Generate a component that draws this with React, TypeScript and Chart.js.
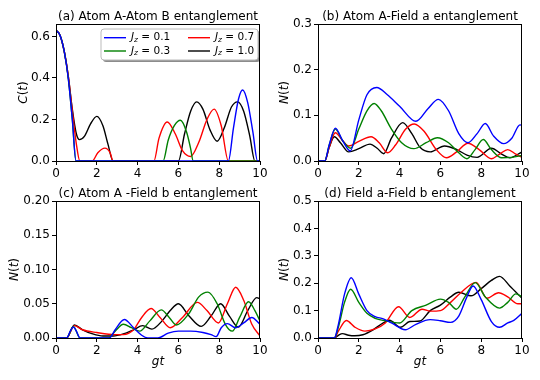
import React, { useEffect, useRef } from "react";
import { Chart, registerables } from "chart.js";

Chart.register(...registerables);

type Pt = [number, number];

// Series labels and colours
const JZ_VALUES = ["0.1", "0.3", "0.7", "1.0"];
const SERIES_COLORS = ["#0000ff", "#008000", "#ff0000", "#000000"];

// Axis ticks
const X_TICKS = [0, 2, 4, 6, 8, 10];
const Y_TICKS_A = [0, 0.2, 0.4, 0.6];
const Y_TICKS_B = [0, 0.1, 0.2, 0.3];
const Y_TICKS_C = [0, 0.05, 0.1, 0.15, 0.2];
const Y_TICKS_D = [0, 0.1, 0.2, 0.3, 0.4, 0.5];

// (a) Atom A - Atom B concurrence C(t)
const A_J01: Pt[] = [[0, 0.63], [0.2, 0.605], [0.4, 0.53], [0.6, 0.4], [0.8, 0.2], [0.98, 0], [8.45, 0], [8.7, 0.16], [8.95, 0.3], [9.15, 0.342], [9.4, 0.28], [9.65, 0.14], [9.88, 0], [10, 0]];
const A_J03: Pt[] = [[0, 0.63], [0.2, 0.605], [0.4, 0.53], [0.6, 0.4], [0.8, 0.2], [0.98, 0], [5.25, 0], [5.5, 0.1], [5.8, 0.17], [6.1, 0.196], [6.4, 0.14], [6.6, 0.06], [6.72, 0], [10, 0]];
const A_J07: Pt[] = [[0, 0.63], [0.2, 0.605], [0.4, 0.53], [0.6, 0.41], [0.8, 0.24], [1.0, 0.08], [1.17, 0], [1.78, 0], [2.05, 0.04], [2.4, 0.062], [2.65, 0.04], [2.8, 0], [4.8, 0], [5.05, 0.11], [5.45, 0.188], [5.85, 0.13], [6.2, 0.05], [6.6, 0.022], [7.0, 0.09], [7.4, 0.2], [7.75, 0.25], [8.1, 0.17], [8.45, 0], [10, 0]];
const A_J10: Pt[] = [[0, 0.63], [0.2, 0.605], [0.4, 0.53], [0.6, 0.41], [0.8, 0.25], [1.0, 0.13], [1.15, 0.103], [1.4, 0.12], [1.7, 0.18], [2.0, 0.215], [2.3, 0.17], [2.55, 0.08], [2.8, 0], [6.0, 0], [6.3, 0.13], [6.6, 0.24], [6.9, 0.285], [7.2, 0.25], [7.55, 0.15], [7.9, 0.095], [8.25, 0.16], [8.6, 0.26], [8.9, 0.285], [9.2, 0.24], [9.5, 0.12], [9.75, 0], [10, 0]];

// (b) Atom A - Field a negativity N(t)
const B_J01: Pt[] = [[0, 0], [0.33, 0], [0.55, 0.035], [0.85, 0.072], [1.2, 0.045], [1.58, 0.022], [2.0, 0.09], [2.4, 0.145], [2.88, 0.161], [3.4, 0.145], [4.0, 0.12], [4.8, 0.087], [5.4, 0.115], [5.9, 0.135], [6.4, 0.11], [6.9, 0.06], [7.35, 0.04], [7.8, 0.06], [8.2, 0.082], [8.6, 0.055], [9.1, 0.038], [9.5, 0.05], [9.9, 0.079], [10, 0.078]];
const B_J03: Pt[] = [[0, 0], [0.33, 0], [0.55, 0.035], [0.85, 0.07], [1.2, 0.045], [1.6, 0.028], [2.0, 0.07], [2.4, 0.11], [2.75, 0.126], [3.1, 0.11], [3.6, 0.07], [4.1, 0.04], [4.7, 0.027], [5.3, 0.04], [5.85, 0.051], [6.4, 0.04], [6.9, 0.018], [7.3, 0.005], [7.7, 0.025], [8.1, 0.047], [8.5, 0.025], [9.0, 0.007], [9.5, 0.008], [10, 0.012]];
const B_J07: Pt[] = [[0, 0], [0.33, 0], [0.55, 0.03], [0.85, 0.062], [1.2, 0.045], [1.5, 0.033], [2.0, 0.043], [2.6, 0.053], [3.0, 0.04], [3.42, 0.018], [3.8, 0.035], [4.3, 0.07], [4.72, 0.081], [5.2, 0.065], [5.8, 0.025], [6.3, 0.007], [6.8, 0.02], [7.35, 0.039], [7.9, 0.025], [8.5, 0.005], [8.9, 0.015], [9.3, 0.025], [9.7, 0.015], [10, 0.008]];
const B_J10: Pt[] = [[0, 0], [0.33, 0], [0.55, 0.03], [0.8, 0.053], [1.1, 0.04], [1.5, 0.02], [2.0, 0.027], [2.55, 0.037], [2.9, 0.028], [3.22, 0.016], [3.6, 0.05], [4.15, 0.084], [4.6, 0.06], [5.0, 0.03], [5.5, 0.02], [6.2, 0.033], [6.8, 0.025], [7.3, 0.013], [7.8, 0.008], [8.5, 0.028], [9.0, 0.015], [9.4, 0.007], [10, 0.02]];

// (c) Atom A - Field b negativity N(t)
const C_J01: Pt[] = [[0, 0], [0.52, 0], [0.7, 0.01], [0.85, 0.016], [1.0, 0.01], [1.18, 0], [2.62, 0], [2.9, 0.012], [3.35, 0.027], [3.8, 0.015], [4.2, 0.004], [4.5, 0], [5.0, 0], [5.5, 0.007], [6.0, 0.01], [6.6, 0.01], [7.2, 0.008], [7.6, 0.005], [7.85, 0.002], [8.1, 0.015], [8.4, 0.021], [8.8, 0.015], [9.2, 0.022], [9.6, 0.03], [10, 0.02]];
const C_J03: Pt[] = [[0, 0], [0.52, 0], [0.85, 0.017], [1.18, 0], [2.55, 0], [2.9, 0.01], [3.3, 0.02], [3.7, 0.015], [4.1, 0.01], [4.6, 0.025], [5.16, 0.041], [5.55, 0.03], [5.9, 0.019], [6.5, 0.035], [7.0, 0.06], [7.45, 0.067], [7.9, 0.05], [8.3, 0.02], [8.64, 0.01], [9.0, 0.03], [9.44, 0.053], [9.75, 0.04], [10, 0.025]];
const C_J07: Pt[] = [[0, 0], [0.52, 0], [0.9, 0.018], [1.3, 0.012], [2.0, 0.008], [2.9, 0.005], [3.3, 0.005], [3.8, 0.012], [4.2, 0.03], [4.66, 0.043], [5.1, 0.03], [5.6, 0.015], [6.2, 0.03], [6.93, 0.052], [7.4, 0.04], [7.96, 0.022], [8.4, 0.05], [8.81, 0.074], [9.2, 0.055], [9.6, 0.02], [10, 0.003]];
const C_J10: Pt[] = [[0, 0], [0.52, 0], [0.9, 0.019], [1.3, 0.012], [1.8, 0.006], [2.3, 0.003], [2.8, 0.003], [3.3, 0.006], [3.8, 0.012], [4.25, 0.018], [4.7, 0.013], [5.2, 0.025], [5.6, 0.04], [6.0, 0.05], [6.5, 0.033], [7.12, 0.017], [7.6, 0.032], [8.07, 0.05], [8.5, 0.032], [8.94, 0.016], [9.4, 0.04], [9.84, 0.059], [10, 0.057]];

// (d) Field a - Field b negativity N(t)
const D_J01: Pt[] = [[0, 0], [0.8, 0], [1.0, 0.05], [1.3, 0.16], [1.63, 0.22], [2.0, 0.16], [2.4, 0.1], [2.8, 0.078], [3.2, 0.07], [3.6, 0.055], [4.28, 0.03], [4.8, 0.05], [5.5, 0.067], [6.0, 0.063], [6.5, 0.057], [6.9, 0.08], [7.3, 0.15], [7.6, 0.19], [8.0, 0.14], [8.5, 0.06], [8.9, 0.039], [9.3, 0.055], [9.6, 0.064], [10, 0.09]];
const D_J03: Pt[] = [[0, 0], [0.8, 0], [1.0, 0.04], [1.3, 0.13], [1.6, 0.178], [2.0, 0.13], [2.4, 0.09], [2.8, 0.072], [3.3, 0.063], [4.0, 0.055], [4.6, 0.1], [5.3, 0.12], [6.0, 0.142], [6.4, 0.13], [6.78, 0.105], [7.2, 0.15], [7.71, 0.202], [8.2, 0.15], [8.9, 0.109], [9.3, 0.13], [9.7, 0.161], [10, 0.15]];
const D_J07: Pt[] = [[0, 0], [0.8, 0], [1.0, 0.025], [1.39, 0.064], [1.8, 0.04], [2.3, 0.025], [2.8, 0.033], [3.3, 0.055], [3.95, 0.114], [4.5, 0.075], [5.1, 0.105], [5.5, 0.098], [6.0, 0.1], [6.5, 0.13], [7.0, 0.165], [7.75, 0.203], [8.28, 0.145], [8.85, 0.165], [9.3, 0.15], [9.8, 0.125], [10, 0.125]];
const D_J10: Pt[] = [[0, 0], [0.8, 0], [1.0, 0.01], [1.2, 0.016], [1.5, 0.01], [1.8, 0.008], [2.2, 0.012], [2.7, 0.03], [3.2, 0.055], [3.5, 0.065], [4.04, 0.039], [4.5, 0.06], [5.0, 0.062], [5.5, 0.1], [6.0, 0.12], [6.5, 0.15], [6.9, 0.167], [7.5, 0.154], [8.0, 0.18], [8.5, 0.21], [8.9, 0.225], [9.4, 0.19], [10, 0.145]];

const FONT = "'DejaVu Sans', 'Liberation Sans', sans-serif";

interface PanelSpec {
  left: number;
  top: number;
  height: number;
  title: string;
  ylabel: string;
  series: Pt[][];
  ymax: number;
  yticks: number[];
  decimals: number;
  yAxisWidth: number;
  padRight: number;
  padTop: number;
  xAxisHeight: number;
  ylabelX: number;
  showXLabel: boolean;
  showLegend: boolean;
}

const PANELS: PanelSpec[] = [
  { left: 0, top: 0, height: 190, title: "(a) Atom A-Atom B entanglement", ylabel: "C", series: [A_J01, A_J03, A_J07, A_J10], ymax: 0.66, yticks: Y_TICKS_A, decimals: 1, yAxisWidth: 56, padRight: 10, padTop: 24, xAxisHeight: 29, ylabelX: 24, showXLabel: false, showLegend: true },
  { left: 270, top: 0, height: 190, title: "(b) Atom A-Field a entanglement", ylabel: "N", series: [B_J01, B_J03, B_J07, B_J10], ymax: 0.3, yticks: Y_TICKS_B, decimals: 1, yAxisWidth: 48, padRight: 18, padTop: 24, xAxisHeight: 29, ylabelX: 15, showXLabel: false, showLegend: false },
  { left: 0, top: 175, height: 205, title: "(c) Atom A -Field b entanglement", ylabel: "N", series: [C_J01, C_J03, C_J07, C_J10], ymax: 0.2, yticks: Y_TICKS_C, decimals: 2, yAxisWidth: 56, padRight: 10, padTop: 26, xAxisHeight: 42, ylabelX: 15, showXLabel: true, showLegend: false },
  { left: 270, top: 175, height: 205, title: "(d) Field a-Field b entanglement", ylabel: "N", series: [D_J01, D_J03, D_J07, D_J10], ymax: 0.5, yticks: Y_TICKS_D, decimals: 1, yAxisWidth: 48, padRight: 18, padTop: 26, xAxisHeight: 42, ylabelX: 15, showXLabel: true, showLegend: false },
];

function drawParts(ctx: CanvasRenderingContext2D, parts: { t: string; f: string; dy?: number }[], x: number, y: number, align: "left" | "center") {
  let total = 0;
  for (const p of parts) {
    ctx.font = p.f;
    total += ctx.measureText(p.t).width;
  }
  let cx = align === "center" ? x - total / 2 : x;
  ctx.textAlign = "left";
  for (const p of parts) {
    ctx.font = p.f;
    ctx.fillText(p.t, cx, y + (p.dy || 0));
    cx += ctx.measureText(p.t).width;
  }
}

function Panel({ spec }: { spec: PanelSpec }) {
  const ref = useRef<HTMLCanvasElement | null>(null);
  useEffect(() => {
    if (!ref.current) return;
    const decor = {
      id: "decor",
      afterDraw(chart: any) {
        const ctx: CanvasRenderingContext2D = chart.ctx;
        const a = chart.chartArea;
        ctx.save();
        // frame
        ctx.strokeStyle = "#000";
        ctx.lineWidth = 1;
        ctx.strokeRect(Math.round(a.left) + 0.5, Math.round(a.top) + 0.5, Math.round(a.right - a.left) - 1, Math.round(a.bottom - a.top));
        ctx.fillStyle = "#000";
        // title
        ctx.textBaseline = "alphabetic";
        ctx.textAlign = "center";
        ctx.font = `12px ${FONT}`;
        ctx.fillText(spec.title, (a.left + a.right) / 2, a.top - 4.5);
        // y label
        ctx.save();
        ctx.translate(spec.ylabelX, (a.top + a.bottom) / 2);
        ctx.rotate(-Math.PI / 2);
        ctx.textBaseline = "middle";
        drawParts(ctx, [
          { t: spec.ylabel, f: `italic 12px ${FONT}` },
          { t: "(", f: `12px ${FONT}` },
          { t: "t", f: `italic 12px ${FONT}` },
          { t: ")", f: `12px ${FONT}` },
        ], 0, 0, "center");
        ctx.restore();
        // x label
        if (spec.showXLabel) {
          ctx.textBaseline = "middle";
          drawParts(ctx, [{ t: "gt", f: `italic 12px ${FONT}` }], (a.left + a.right) / 2, a.bottom + 23.5, "center");
        }
        // legend
        if (spec.showLegend) {
          const bx = 101, by = 29, bw = 157, bh = 31;
          const rr = (x: number, y: number, w: number, h: number, r: number) => {
            ctx.beginPath();
            ctx.moveTo(x + r, y);
            ctx.lineTo(x + w - r, y);
            ctx.quadraticCurveTo(x + w, y, x + w, y + r);
            ctx.lineTo(x + w, y + h - r);
            ctx.quadraticCurveTo(x + w, y + h, x + w - r, y + h);
            ctx.lineTo(x + r, y + h);
            ctx.quadraticCurveTo(x, y + h, x, y + h - r);
            ctx.lineTo(x, y + r);
            ctx.quadraticCurveTo(x, y, x + r, y);
            ctx.closePath();
          };
          rr(bx + 2, by + 2, bw, bh, 3);
          ctx.fillStyle = "rgba(0,0,0,0.45)";
          ctx.fill();
          rr(bx, by, bw, bh, 3);
          ctx.fillStyle = "#ffffff";
          ctx.fill();
          ctx.strokeStyle = "#bbbbbb";
          ctx.lineWidth = 1;
          ctx.stroke();
          const cols = [104, 188];
          const rows = [37.7, 51];
          // column-major like matplotlib ncol=2
          const placement = [[0, 0], [0, 1], [1, 0], [1, 1]];
          for (let i = 0; i < 4; i++) {
            const [c, r] = placement[i];
            const x0 = cols[c];
            const y0 = rows[r];
            ctx.strokeStyle = SERIES_COLORS[i];
            ctx.lineWidth = 1.4;
            ctx.beginPath();
            ctx.moveTo(x0, y0);
            ctx.lineTo(x0 + 22, y0);
            ctx.stroke();
            ctx.fillStyle = "#000";
            ctx.textBaseline = "middle";
            drawParts(ctx, [
              { t: "J", f: `italic 10.5px ${FONT}` },
              { t: "z", f: `italic 7.5px ${FONT}`, dy: 2.5 },
              { t: " = ", f: `10.5px ${FONT}` },
              { t: JZ_VALUES[i], f: `10.5px ${FONT}` },
            ], x0 + 27, y0, "left");
          }
        }
        ctx.restore();
      },
    };
    const chart = new Chart(ref.current, {
      type: "line",
      data: {
        datasets: spec.series.map((s, i) => ({
          label: "J_z = " + JZ_VALUES[i],
          data: s.map(([x, y]) => ({ x, y })),
          borderColor: SERIES_COLORS[i],
          backgroundColor: SERIES_COLORS[i],
          borderWidth: 1.4,
          pointRadius: 0,
          fill: false,
          cubicInterpolationMode: "monotone" as const,
        })),
      },
      options: {
        animation: false,
        responsive: false,
        events: [],
        layout: { padding: { left: 0, right: spec.padRight, top: spec.padTop, bottom: 0 } },
        plugins: { legend: { display: false }, tooltip: { enabled: false }, title: { display: false } },
        scales: {
          x: {
            type: "linear",
            min: 0,
            max: 10,
            afterBuildTicks: (scale: any) => {
              scale.ticks = X_TICKS.map((v) => ({ value: v }));
            },
            afterFit: (scale: any) => {
              scale.height = spec.xAxisHeight;
            },
            ticks: { color: "#000", font: { family: FONT, size: 12 }, padding: 2, maxRotation: 0, autoSkip: false, callback: (v: any) => String(v) },
            grid: { drawOnChartArea: false, drawTicks: true, tickLength: 4, color: "#000" },
            border: { display: false },
          },
          y: {
            type: "linear",
            min: 0,
            max: spec.ymax,
            afterBuildTicks: (scale: any) => {
              scale.ticks = spec.yticks.map((v) => ({ value: v }));
            },
            afterFit: (scale: any) => {
              scale.width = spec.yAxisWidth;
            },
            ticks: { color: "#000", font: { family: FONT, size: 12 }, padding: 2, autoSkip: false, callback: (v: any) => Number(v).toFixed(spec.decimals) },
            grid: { drawOnChartArea: false, drawTicks: true, tickLength: 4, color: "#000" },
            border: { display: false },
          },
        },
      } as any,
      plugins: [decor],
    });
    return () => chart.destroy();
  }, [spec]);
  return (
    <div style={{ position: "absolute", left: spec.left, top: spec.top, width: 270, height: spec.height }}>
      <canvas ref={ref} width={270} height={spec.height} style={{ width: 270, height: spec.height, display: "block" }} />
    </div>
  );
}

export default function App() {
  return (
    <div style={{ position: "absolute", left: 0, top: 0, width: 540, height: 380, background: "#fff", overflow: "hidden" }}>
      {PANELS.map((p, i) => (
        <Panel key={i} spec={p} />
      ))}
    </div>
  );
}
